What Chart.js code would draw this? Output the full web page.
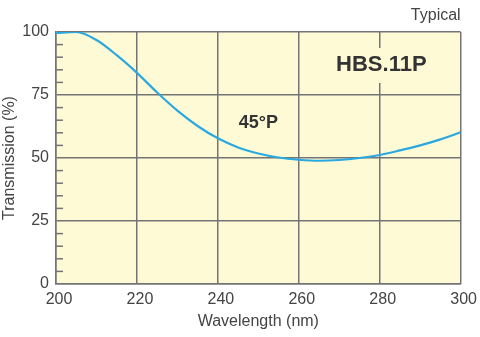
<!DOCTYPE html>
<html>
<head>
<meta charset="utf-8">
<script src="https://cdn.jsdelivr.net/npm/chart.js@4"></script>
<style>
  html, body { margin: 0; padding: 0; background: #fff; }
  #wrap { width: 480px; height: 337px; }
</style>
</head>
<body>
<div id="wrap"><canvas id="chart" width="480" height="337"></canvas></div>
<script>
// Transmission curve (5 nm steps)
var wavelengths = [200, 205, 210, 215, 220, 225, 230, 235, 240, 245, 250,
                   255, 260, 265, 270, 275, 280, 285, 290, 295, 300];
var transmission = [99.6, 100, 96.8, 90.8, 83.8, 76.0, 68.8, 62.7, 57.8, 54.2, 51.8,
                    50.2, 49.3, 48.9, 49.2, 50.0, 51.2, 53.0, 55.0, 57.4, 60.2];

var xTicks = [200, 220, 240, 260, 280, 300];
var yTicks = [0, 25, 50, 75, 100];
var yMinorTicks = [5, 10, 15, 20, 30, 35, 40, 45, 55, 60, 65, 70, 80, 85, 90, 95];

var labelTypical = "Typical";
var labelProduct = "HBS.11P";
var labelAngle = "45°P";

var bgColor = "#fffad6";
var gridColor = "#747474";
var textColor = "#444";
var curveColor = "#2aa9e1";
var fontFamily = "'Liberation Sans', Arial, Helvetica, sans-serif";

// Cream plot background
var plotBackground = {
  id: "plotBackground",
  beforeDraw: function (chart) {
    var a = chart.chartArea, ctx = chart.ctx;
    ctx.save();
    ctx.fillStyle = bgColor;
    ctx.fillRect(a.left, a.top, a.right - a.left, a.bottom - a.top);
    ctx.restore();
  }
};

// Minor ticks inside the plot and the text labels
var plotExtras = {
  id: "plotExtras",
  beforeDatasetsDraw: function (chart) {
    var ctx = chart.ctx, x = chart.scales.x, y = chart.scales.y;
    ctx.save();

    ctx.strokeStyle = gridColor;
    ctx.lineWidth = 1.5;
    yMinorTicks.forEach(function (v) {
      var py = y.getPixelForValue(v);
      ctx.beginPath();
      ctx.moveTo(x.left, py);
      ctx.lineTo(x.left + 7, py);
      ctx.stroke();
    });

    // product label, knocking out the grid behind it
    var cx = x.getPixelForValue(280.4), cy = y.getPixelForValue(86.9);
    ctx.fillStyle = bgColor;
    ctx.fillRect(cx - 52, cy - 17, 104, 35);
    ctx.fillStyle = "#333";
    ctx.font = "bold 22px " + fontFamily;
    ctx.textAlign = "center";
    ctx.textBaseline = "middle";
    ctx.fillText(labelProduct, cx, cy);

    ctx.font = "bold 18px " + fontFamily;
    ctx.fillText(labelAngle, x.getPixelForValue(250), y.getPixelForValue(63.7));

    ctx.restore();
  },
  afterDraw: function (chart) {
    var ctx = chart.ctx, a = chart.chartArea;
    ctx.save();
    ctx.fillStyle = textColor;
    ctx.font = "16px " + fontFamily;
    ctx.textAlign = "right";
    ctx.textBaseline = "middle";
    ctx.fillText(labelTypical, a.right, 16);
    ctx.restore();
  }
};

new Chart(document.getElementById("chart"), {
  type: "line",
  data: {
    datasets: [{
      data: wavelengths.map(function (w, i) { return { x: w, y: transmission[i] }; }),
      borderColor: curveColor,
      borderWidth: 2.2,
      pointRadius: 0,
      fill: false,
      cubicInterpolationMode: "monotone"
    }]
  },
  options: {
    responsive: false,
    animation: false,
    events: [],
    layout: { padding: { top: 32, right: 18, left: 0, bottom: 0 } },
    plugins: {
      legend: { display: false },
      tooltip: { enabled: false }
    },
    scales: {
      x: {
        type: "linear",
        min: 200,
        max: 300,
        afterBuildTicks: function (scale) {
          scale.ticks = xTicks.map(function (v) { return { value: v }; });
        },
        afterFit: function (scale) { scale.height = 53; },
        grid: { color: gridColor, lineWidth: 1.5, drawTicks: false },
        border: { color: gridColor, width: 1.5 },
        ticks: {
          color: textColor,
          padding: 6,
          labelOffset: 3,
          maxRotation: 0,
          font: { family: fontFamily, size: 16 }
        },
        title: {
          display: true,
          text: "Wavelength (nm)",
          color: textColor,
          padding: { top: 0, bottom: 6 },
          font: { family: fontFamily, size: 16 }
        }
      },
      y: {
        min: 0,
        max: 100,
        afterBuildTicks: function (scale) {
          scale.ticks = yTicks.map(function (v) { return { value: v }; });
        },
        afterFit: function (scale) { scale.width = 56; },
        grid: { color: gridColor, lineWidth: 1.5, drawTicks: false },
        border: { color: gridColor, width: 1.5 },
        ticks: {
          color: textColor,
          padding: 7,
          font: { family: fontFamily, size: 16 }
        },
        title: {
          display: true,
          text: "Transmission (%)",
          color: textColor,
          padding: { top: 0, bottom: 0 },
          font: { family: fontFamily, size: 16 }
        }
      }
    }
  },
  plugins: [plotBackground, plotExtras]
});
</script>
</body>
</html>
